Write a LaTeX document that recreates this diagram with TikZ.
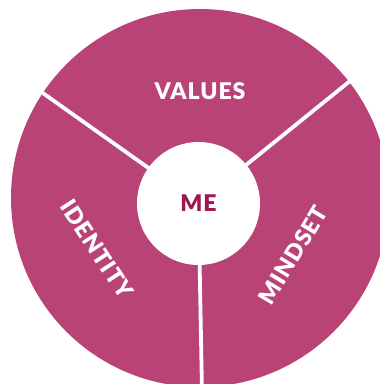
\documentclass[tikz,border=0pt]{standalone}
\usepackage{fontspec}
\setmainfont{Lato}
\newfontfamily\heavyfont[LetterSpace=4]{Lato Black}
\definecolor{wheel}{RGB}{185,67,119}
\definecolor{mecol}{RGB}{158,22,82}
\begin{document}
\begin{tikzpicture}[x=1pt,y=-1pt,
  lab/.style={text=white,font=\heavyfont\fontsize{23}{23}\selectfont,inner sep=0pt},
  divider/.style={white,line width=3.8pt}]
\useasboundingbox (0,0) rectangle (380,384);
\clip (0,0) rectangle (380,384);
\coordinate (C) at (200,198);
\coordinate (mc) at (198.5,203.5);
\coordinate (ul) at (40,91);
\coordinate (ur) at (350,81);
\coordinate (bt) at (202,392);
\fill[wheel] (C) circle[radius=189];
\draw[divider] (mc) -- (ul);
\draw[divider] (mc) -- (ur);
\draw[divider] (mc) -- (bt);
\node[circle,fill=white,minimum size=123pt,inner sep=0pt,text=mecol,font=\heavyfont\fontsize{23}{23}\selectfont] (me) at (mc) {ME};
\node[lab] (values) at (200,91) {VALUES};
\node[lab,rotate=-57] (identity) at (97,249) {IDENTITY};
\node[lab,rotate=59] (mindset) at (293,255) {MINDSET};
\end{tikzpicture}
\end{document}
